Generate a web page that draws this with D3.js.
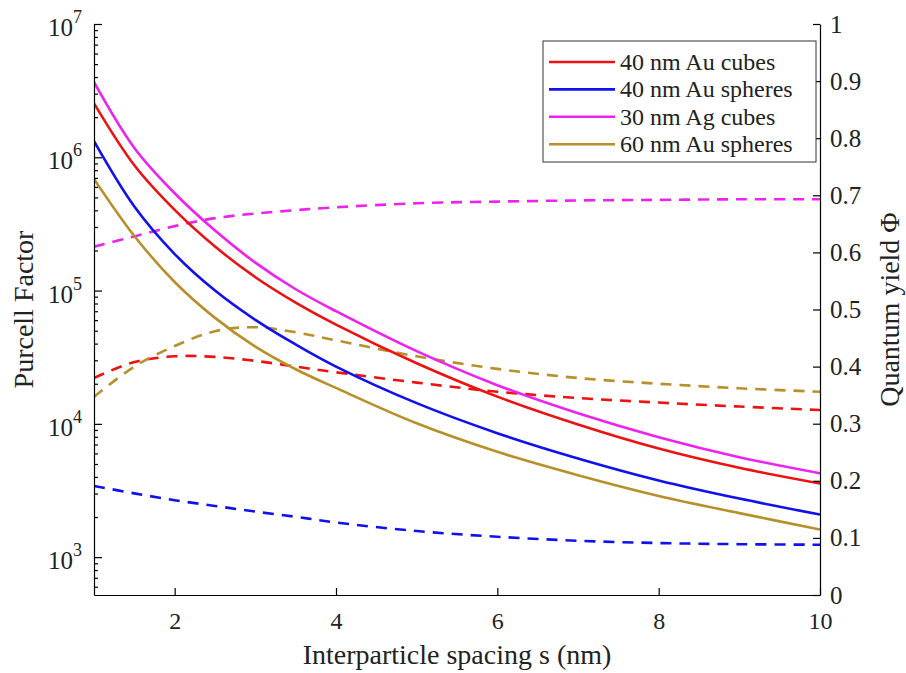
<!DOCTYPE html>
<html>
<head>
<meta charset="utf-8">
<script src="https://cdn.jsdelivr.net/npm/d3@7"></script>
<style>
  body { margin: 0; background: #fff; }
  .axis path, .axis line { stroke: #000; stroke-width: 1.2; }
  .axis text { fill: #222; }
</style>
</head>
<body>
<svg id="chart" width="906" height="673"></svg>
<script>
const FONT = '"Liberation Serif", "Times New Roman", serif';

// Interparticle spacing (nm)
const spacing = [1, 1.5, 2, 2.5, 3, 3.5, 4, 5, 6, 7, 8, 9, 10];

// Purcell factor (solid lines, left axis)
const purcellAuCube40 = [2.54e6, 8.71e5, 4.03e5, 2.14e5, 1.26e5, 8.13e4, 5.56e4, 2.85e4, 1.60e4, 9.89e3, 6.53e3, 4.68e3, 3.57e3];
const purcellAuSphere40 = [1.32e6, 4.27e5, 1.88e5, 1.0e5, 6.03e4, 3.94e4, 2.69e4, 1.43e4, 8.51e3, 5.50e3, 3.76e3, 2.75e3, 2.09e3];
const purcellAgCube30 = [3.66e6, 1.175e6, 5.37e5, 2.82e5, 1.62e5, 1.023e5, 7.0e4, 3.51e4, 1.95e4, 1.20e4, 7.94e3, 5.62e3, 4.26e3];
const purcellAuSphere60 = [6.89e5, 2.57e5, 1.16e5, 6.24e4, 3.80e4, 2.57e4, 1.86e4, 1.01e4, 6.17e3, 4.12e3, 2.88e3, 2.14e3, 1.61e3];

// Quantum yield (dashed lines, right axis)
const qyAuCube40 = [0.380, 0.408, 0.418, 0.417, 0.410, 0.400, 0.390, 0.372, 0.356, 0.345, 0.337, 0.330, 0.324];
const qyAuSphere40 = [0.191, 0.178, 0.166, 0.156, 0.146, 0.137, 0.127, 0.112, 0.102, 0.095, 0.091, 0.089, 0.088];
const qyAgCube30 = [0.610, 0.628, 0.646, 0.660, 0.668, 0.674, 0.679, 0.686, 0.689, 0.691, 0.692, 0.693, 0.693];
const qyAuSphere60 = [0.347, 0.400, 0.436, 0.462, 0.469, 0.460, 0.446, 0.418, 0.396, 0.380, 0.370, 0.362, 0.356];

const seriesNames = ['40 nm Au cubes', '40 nm Au spheres', '30 nm Ag cubes', '60 nm Au spheres'];
const seriesColors = ['#ee1111', '#1111ee', '#ee22ee', '#b8902a'];

const xTicks = [2, 4, 6, 8, 10];
const leftDecades = [1e3, 1e4, 1e5, 1e6, 1e7];
const rightTicks = [0, 0.1, 0.2, 0.3, 0.4, 0.5, 0.6, 0.7, 0.8, 0.9, 1];

const margin = { top: 24, right: 86, bottom: 78, left: 94 };
const width = 906 - margin.left - margin.right;
const height = 673 - margin.top - margin.bottom;

const svg = d3.select('#chart').attr('font-family', FONT);
const g = svg.append('g').attr('transform', `translate(${margin.left},${margin.top})`);

const x = d3.scaleLinear().domain([1, 10]).range([0, width]);
const yLeft = d3.scaleLog().domain([520, 1e7]).range([height, 0]);
const yRight = d3.scaleLinear().domain([0, 1]).range([height, 0]);

g.append('clipPath').attr('id', 'clip')
    .append('rect').attr('width', width).attr('height', height);

// lines
const plot = g.append('g').attr('clip-path', 'url(#clip)');
const curve = d3.curveCatmullRom.alpha(0.5);
const purcellLine = d3.line().x((d, i) => x(spacing[i])).y(d => yLeft(d)).curve(curve);
const qyLine = d3.line().x((d, i) => x(spacing[i])).y(d => yRight(d)).curve(curve);

const purcell = [purcellAuCube40, purcellAuSphere40, purcellAgCube30, purcellAuSphere60];
const qy = [qyAuCube40, qyAuSphere40, qyAgCube30, qyAuSphere60];

qy.forEach((vals, k) => {
    plot.append('path')
        .attr('d', qyLine(vals))
        .attr('fill', 'none')
        .attr('stroke', seriesColors[k])
        .attr('stroke-width', 2.6)
        .attr('stroke-dasharray', '11,8');
});
purcell.forEach((vals, k) => {
    plot.append('path')
        .attr('d', purcellLine(vals))
        .attr('fill', 'none')
        .attr('stroke', seriesColors[k])
        .attr('stroke-width', 2.6);
});

// x axis
g.append('g').attr('class', 'axis')
    .attr('transform', `translate(0,${height})`)
    .call(d3.axisBottom(x).tickValues(xTicks).tickSizeInner(-7).tickSizeOuter(0).tickPadding(17))
    .attr('font-family', FONT).attr('font-size', 24);

// left axis: major + minor ticks, custom labels
const minorTicks = [];
leftDecades.slice(0, -1).forEach(d => { for (let m = 2; m <= 9; m++) minorTicks.push(d * m); });
[6e2, 7e2, 8e2, 9e2].forEach(v => minorTicks.push(v));

g.append('g').attr('class', 'axis')
    .call(d3.axisLeft(yLeft).tickValues(minorTicks).tickSizeInner(-4).tickSizeOuter(0).tickFormat(''));
const leftAxis = g.append('g').attr('class', 'axis')
    .call(d3.axisLeft(yLeft).tickValues(leftDecades).tickSizeInner(-8).tickSizeOuter(0).tickFormat(''));
leftAxis.select('.domain').remove();

leftDecades.forEach(d => {
    const t = g.append('text')
        .attr('x', -12)
        .attr('y', yLeft(d) + 12)
        .attr('text-anchor', 'end')
        .attr('font-family', FONT)
        .attr('font-size', 25)
        .attr('fill', '#222');
    t.append('tspan').text('10');
    t.append('tspan').attr('font-size', 18).attr('dy', -13).text(Math.round(Math.log10(d)));
});

// right axis
g.append('g').attr('class', 'axis')
    .attr('transform', `translate(${width},0)`)
    .call(d3.axisRight(yRight).tickValues(rightTicks).tickSizeInner(-7).tickSizeOuter(0).tickPadding(10).tickFormat(d3.format('~g')))
    .attr('font-family', FONT).attr('font-size', 25);

// axis labels
svg.append('text')
    .attr('transform', `translate(33,${margin.top + height / 2}) rotate(-90)`)
    .attr('text-anchor', 'middle')
    .attr('font-family', FONT)
    .attr('font-size', 28)
    .attr('fill', '#222')
    .text('Purcell Factor');

svg.append('text')
    .attr('transform', `translate(899,${margin.top + height / 2}) rotate(-90)`)
    .attr('text-anchor', 'middle')
    .attr('font-family', FONT)
    .attr('font-size', 28)
    .attr('fill', '#222')
    .text('Quantum yield Φ');

svg.append('text')
    .attr('x', margin.left + width / 2)
    .attr('y', 664)
    .attr('text-anchor', 'middle')
    .attr('font-family', FONT)
    .attr('font-size', 28)
    .attr('fill', '#222')
    .text('Interparticle spacing s (nm)');

// legend
const legend = svg.append('g').attr('transform', 'translate(543,41)');
legend.append('rect')
    .attr('width', 273).attr('height', 121)
    .attr('fill', '#fff').attr('stroke', '#333').attr('stroke-width', 1);
seriesNames.forEach((name, k) => {
    const yy = 21 + k * 27.4;
    legend.append('line')
        .attr('x1', 6).attr('x2', 72).attr('y1', yy).attr('y2', yy)
        .attr('stroke', seriesColors[k]).attr('stroke-width', 2.6);
    legend.append('text')
        .attr('x', 77).attr('y', yy + 8)
        .attr('font-family', FONT)
        .attr('font-size', 24)
        .attr('fill', '#222')
        .text(name);
});
</script>
</body>
</html>
